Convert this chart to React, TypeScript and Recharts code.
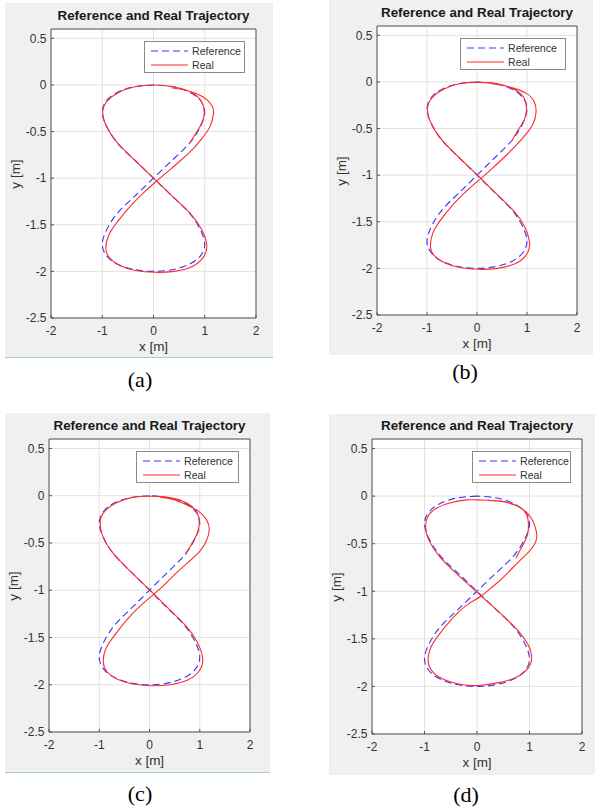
import { LineChart, Line, XAxis, YAxis, CartesianGrid, Legend } from "recharts";

// Reference figure-eight (same in all four runs).
const refX = [0, -0.38, -0.71, -0.92, -1, -0.92, -0.71, -0.38, 0, 0.38, 0.71, 0.92, 1, 0.92, 0.71, 0.38, 0, -0.38, -0.71, -0.92, -1, -0.92, -0.71, -0.38, 0, 0.38, 0.71, 0.92, 1, 0.92, 0.71, 0.38, 0];
const refY = [0, -0.02, -0.08, -0.17, -0.29, -0.44, -0.62, -0.8, -1, -1.2, -1.38, -1.56, -1.71, -1.83, -1.92, -1.98, -2, -1.98, -1.92, -1.83, -1.71, -1.56, -1.38, -1.2, -1, -0.8, -0.62, -0.44, -0.29, -0.17, -0.08, -0.02, 0];

// Real trajectories, one pair per sub-figure.
const realAX = [0.71, 0.85, 0.95, 0.99, 0.94, 0.74, 0.4, 0.02, -0.36, -0.68, -0.9, -0.99, -0.93, -0.72, -0.38, 0, 0.38, 0.72, 0.94, 1.04, 0.97, 0.75, 0.4, 0.03, -0.35, -0.65, -0.85, -0.93, -0.88, -0.72, -0.45, -0.16, 0.06, 0.3, 0.55, 0.78, 0.95, 1.1, 1.17, 1.14, 0.97, 0.65, 0.35];
const realAY = [-0.62, -0.5, -0.4, -0.3, -0.18, -0.08, -0.02, 0, -0.02, -0.08, -0.17, -0.28, -0.43, -0.61, -0.8, -1, -1.2, -1.38, -1.55, -1.72, -1.85, -1.95, -2, -2.01, -1.99, -1.94, -1.86, -1.76, -1.62, -1.48, -1.3, -1.14, -1.03, -0.92, -0.8, -0.68, -0.57, -0.45, -0.31, -0.22, -0.13, -0.06, -0.03];

const realBX = [0.7, 0.84, 0.95, 0.99, 0.95, 0.75, 0.4, 0.02, -0.36, -0.68, -0.9, -0.99, -0.93, -0.72, -0.38, 0.01, 0.39, 0.73, 0.95, 1.05, 0.98, 0.76, 0.41, 0.04, -0.34, -0.65, -0.86, -0.93, -0.89, -0.74, -0.47, -0.17, 0.07, 0.3, 0.56, 0.8, 0.98, 1.12, 1.18, 1.15, 0.98, 0.62, 0.3];
const realBY = [-0.63, -0.5, -0.4, -0.3, -0.18, -0.08, -0.02, -0.005, -0.02, -0.08, -0.17, -0.28, -0.43, -0.61, -0.8, -1, -1.2, -1.38, -1.55, -1.73, -1.86, -1.95, -2, -2.01, -1.99, -1.94, -1.86, -1.77, -1.63, -1.49, -1.31, -1.15, -1.04, -0.93, -0.8, -0.67, -0.56, -0.45, -0.33, -0.22, -0.12, -0.05, -0.02];

const realCX = [0.72, 0.85, 0.95, 0.99, 0.95, 0.75, 0.4, 0.02, -0.36, -0.68, -0.9, -0.98, -0.93, -0.72, -0.38, 0.01, 0.39, 0.73, 0.95, 1.06, 0.98, 0.76, 0.4, 0.03, -0.35, -0.65, -0.85, -0.92, -0.87, -0.7, -0.43, -0.15, 0.07, 0.3, 0.53, 0.78, 1.0, 1.13, 1.19, 1.13, 0.97, 0.75, 0.47, 0.2];
const realCY = [-0.62, -0.5, -0.4, -0.3, -0.18, -0.08, -0.02, -0.005, -0.02, -0.08, -0.17, -0.27, -0.43, -0.61, -0.8, -1, -1.2, -1.38, -1.55, -1.73, -1.86, -1.95, -2, -2.01, -1.99, -1.94, -1.86, -1.76, -1.62, -1.48, -1.3, -1.15, -1.05, -0.94, -0.82, -0.7, -0.59, -0.48, -0.36, -0.25, -0.16, -0.1, -0.04, -0.015];

const realDX = [0.74, 0.87, 0.96, 0.98, 0.93, 0.72, 0.4, 0.05, -0.2, -0.5, -0.78, -0.94, -0.98, -0.92, -0.72, -0.38, 0.02, 0.42, 0.76, 0.97, 1.04, 0.97, 0.76, 0.42, 0.02, -0.3, -0.62, -0.84, -0.93, -0.9, -0.77, -0.46, -0.18, 0.08, 0.3, 0.49, 0.81, 0.98, 1.1, 1.14, 1.1, 1.02, 0.82, 0.5, 0.2];
const realDY = [-0.65, -0.52, -0.41, -0.3, -0.18, -0.09, -0.05, -0.04, -0.04, -0.07, -0.13, -0.22, -0.33, -0.46, -0.63, -0.82, -1.02, -1.22, -1.4, -1.56, -1.7, -1.81, -1.9, -1.96, -1.99, -1.98, -1.93, -1.85, -1.74, -1.62, -1.49, -1.28, -1.14, -1.05, -0.95, -0.86, -0.68, -0.59, -0.5, -0.41, -0.31, -0.22, -0.12, -0.06, -0.045];

const xTicks = [-2, -1, 0, 1, 2];
const yTicks = [-2.5, -2, -1.5, -1, -0.5, 0, 0.5];
const captions = ["(a)", "(b)", "(c)", "(d)"];
const seriesNames = ["Reference", "Real"];
const chartTitle = "Reference and Real Trajectory";

const FONT = '"Liberation Sans", Arial, Helvetica, sans-serif';
const AX = "#555555";
const TXT = "#333333";
const BLUE = "#3535ff";
const RED = "#ff2a2a";
const DASH = "7 4";

const toPoints = (xs: number[], ys: number[]) => xs.map((x, i) => ({ x, y: ys[i] }));

// layout of the four MATLAB figure windows (page px)
const panels = [
  { left: 5, top: 3, w: 268, h: 354, pl: 46, pt: 26, pw: 205, ph: 289, legW: 101, edge: true, capX: 140, capY: 380, xs: realAX, ys: realAY },
  { left: 329, top: 0, w: 264, h: 355, pl: 48, pt: 26, pw: 200, ph: 289, legW: 106, edge: false, capX: 465, capY: 372, xs: realBX, ys: realBY },
  { left: 5, top: 413, w: 265, h: 359, pl: 44, pt: 26, pw: 201, ph: 293, legW: 103, edge: true, capX: 140, capY: 794, xs: realCX, ys: realCY },
  { left: 329, top: 414, w: 266, h: 361, pl: 43, pt: 25, pw: 210, ph: 295, legW: 99, edge: false, capX: 466, capY: 795, xs: realDX, ys: realDY },
];

const XH = 20;
const YW = 30;

function LegendBox({ payload, width }: any) {
  // keep MATLAB's order: Reference, then Real
  const items = seriesNames
    .map((n) => (payload || []).find((e: any) => e.value === n))
    .filter(Boolean);
  return (
    <div
      style={{
        position: "relative",
        width,
        height: 32,
        boxSizing: "border-box",
        background: "#fff",
        border: "1px solid #8a8a8a",
        fontFamily: FONT,
        fontSize: 10.6,
        color: TXT,
      }}
    >
      {items.map((e: any, i: number) => (
        <div
          key={e.value}
          style={{ position: "absolute", left: 6, top: 2 + i * 14, height: 14, display: "flex", alignItems: "center", whiteSpace: "nowrap" }}
        >
          <svg width={37} height={14}>
            <line
              x1={0}
              x2={37}
              y1={7}
              y2={7}
              stroke={e.color}
              strokeWidth={1}
              strokeDasharray={e.value === seriesNames[0] ? DASH : undefined}
            />
          </svg>
          <span style={{ marginLeft: 4, lineHeight: "14px" }}>{e.value}</span>
        </div>
      ))}
    </div>
  );
}

function Panel({ p }: { p: (typeof panels)[number] }) {
  const right = p.w - p.pl - p.pw;
  const bottom = p.h - p.pt - p.ph;
  const margin = { top: p.pt - 1, right: right - 1, bottom: bottom - XH, left: p.pl - YW };
  return (
    <div
      style={{
        position: "absolute",
        left: p.left,
        top: p.top,
        width: p.w,
        height: p.h,
        background: "#f0f0f0",
        borderBottom: p.edge ? "1px solid #a6cbe6" : "none",
      }}
    >
      <div
        style={{
          position: "absolute",
          left: p.pl,
          width: p.pw,
          top: p.pt - 21,
          lineHeight: "16px",
          textAlign: "center",
          fontFamily: FONT,
          fontWeight: "bold",
          fontSize: 13.4,
          color: "#1a1a1a",
          whiteSpace: "nowrap",
        }}
      >
        {chartTitle}
      </div>
      <div
        style={{
          position: "absolute",
          left: p.pl,
          width: p.pw,
          top: p.pt + p.ph + 21,
          lineHeight: "16px",
          textAlign: "center",
          fontFamily: FONT,
          fontSize: 13.5,
          color: TXT,
        }}
      >
        x [m]
      </div>
      <div
        style={{
          position: "absolute",
          left: p.pl - 36,
          top: p.pt + p.ph / 2,
          transform: "translate(-50%, -50%) rotate(-90deg)",
          fontFamily: FONT,
          fontSize: 13.5,
          color: TXT,
          whiteSpace: "nowrap",
        }}
      >
        y [m]
      </div>
      <LineChart width={p.w} height={p.h} margin={margin}>
        <CartesianGrid stroke="#e2e2e2" fill="#ffffff" />
        <XAxis
          dataKey="x"
          type="number"
          domain={[-2, 2]}
          ticks={xTicks}
          interval={0}
          height={XH}
          allowDataOverflow
          tickSize={-3}
          tickMargin={11}
          axisLine={{ stroke: AX }}
          tickLine={{ stroke: AX }}
          tick={{ fill: TXT, fontSize: 12, fontFamily: FONT }}
        />
        <XAxis
          xAxisId="top"
          orientation="top"
          type="number"
          domain={[-2, 2]}
          ticks={xTicks}
          interval={0}
          height={1}
          tickSize={-3}
          tick={false}
          axisLine={{ stroke: AX }}
          tickLine={{ stroke: AX }}
        />
        <YAxis
          type="number"
          domain={[-2.5, 0.6]}
          ticks={yTicks}
          interval={0}
          width={YW}
          allowDataOverflow
          tickSize={-3}
          tickMargin={7.5}
          axisLine={{ stroke: AX }}
          tickLine={{ stroke: AX }}
          tick={{ fill: TXT, fontSize: 12, fontFamily: FONT }}
        />
        <YAxis
          yAxisId="right"
          orientation="right"
          type="number"
          domain={[-2.5, 0.6]}
          ticks={yTicks}
          interval={0}
          width={1}
          tickSize={-3}
          tick={false}
          axisLine={{ stroke: AX }}
          tickLine={{ stroke: AX }}
        />
        <Legend
          layout="vertical"
          align="center"
          verticalAlign="middle"
          wrapperStyle={{ left: p.pl + p.pw - 11 - p.legW, top: p.pt + 12, width: p.legW, margin: 0 }}
          content={(props: any) => <LegendBox payload={props.payload} width={p.legW} />}
        />
        <Line
          data={toPoints(refX, refY)}
          dataKey="y"
          name={seriesNames[0]}
          type="natural"
          stroke={BLUE}
          strokeWidth={1.1}
          strokeDasharray={DASH}
          dot={false}
          activeDot={false}
          isAnimationActive={false}
        />
        <Line
          data={toPoints(p.xs, p.ys)}
          dataKey="y"
          name={seriesNames[1]}
          type="natural"
          stroke={RED}
          strokeWidth={1.1}
          dot={false}
          activeDot={false}
          isAnimationActive={false}
        />
      </LineChart>
    </div>
  );
}

export default function App() {
  return (
    <div style={{ position: "absolute", left: 0, top: 0, width: 595, height: 810, background: "#fff" }}>
      {panels.map((p, i) => (
        <Panel key={i} p={p} />
      ))}
      {panels.map((p, i) => (
        <div
          key={"c" + i}
          style={{
            position: "absolute",
            left: p.capX,
            top: p.capY,
            transform: "translate(-50%, -50%)",
            fontFamily: '"Liberation Serif", "Times New Roman", serif',
            fontSize: 22,
            color: "#000",
            whiteSpace: "nowrap",
          }}
        >
          {captions[i]}
        </div>
      ))}
    </div>
  );
}
